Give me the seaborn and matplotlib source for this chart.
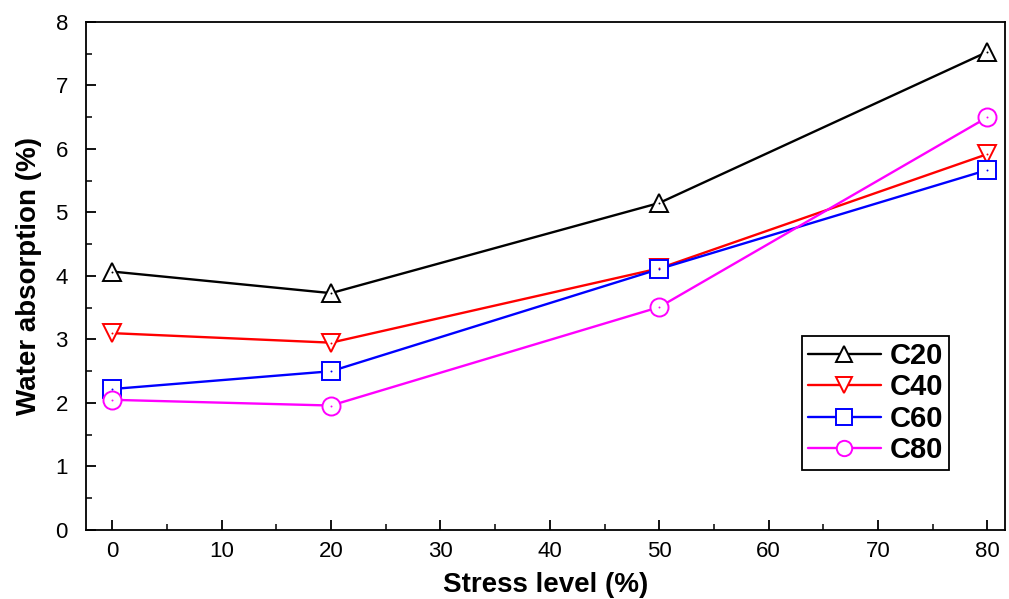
import numpy as np
import pandas as pd
import matplotlib
matplotlib.use("Agg")
import matplotlib.pyplot as plt
from matplotlib.ticker import MultipleLocator
import seaborn as sns

stress = [0, 20, 50, 80]
c20 = [4.07, 3.73, 5.15, 7.53]
c40 = [3.10, 2.95, 4.12, 5.92]
c60 = [2.22, 2.50, 4.11, 5.67]
c80 = [2.05, 1.96, 3.51, 6.50]
series_names = ["C20", "C40", "C60", "C80"]

sns.set_theme(style="ticks")
plt.rcParams['font.family'] = ['Liberation Sans', 'DejaVu Sans']
plt.rcParams['text.color'] = 'black'
plt.rcParams['axes.labelcolor'] = 'black'

colors = {"C20": "black", "C40": "#ff0000", "C60": "#0000ff", "C80": "#ff00ff"}
markers = {"C20": "^", "C40": "v", "C60": "s", "C80": "o"}
values = {"C20": c20, "C40": c40, "C60": c60, "C80": c80}

fig = plt.figure(figsize=(10.09, 5.99), dpi=100)
ax = fig.add_axes([0.0852, 0.1152, 0.9108, 0.8481])

for name in series_names:
    df = pd.DataFrame({"x": stress, "y": values[name]})
    sns.lineplot(data=df, x="x", y="y", ax=ax, color=colors[name], marker=markers[name],
                 markersize=13, mfc="white", mec=colors[name], mew=1.4, lw=1.7, label=name)
    sns.scatterplot(data=df, x="x", y="y", ax=ax, color=colors[name], s=2, linewidth=0,
                    legend=False, zorder=5)

ax.set_xlim(-2.4, 81.6)
ax.set_ylim(0, 8)
ax.xaxis.set_major_locator(MultipleLocator(10))
ax.xaxis.set_minor_locator(MultipleLocator(5))
ax.yaxis.set_major_locator(MultipleLocator(1))
ax.yaxis.set_minor_locator(MultipleLocator(0.5))
ax.tick_params(which="major", direction="in", length=7, width=1.3, labelsize=16,
               colors="black", labelcolor="black", pad=8)
ax.tick_params(axis="y", which="major", pad=13)
ax.tick_params(which="minor", direction="in", length=4, width=1.1, colors="black")
for s in ax.spines.values():
    s.set_linewidth(1.3)
    s.set_color("black")

ax.set_xlabel("Stress level (%)", fontsize=20, fontweight="bold", labelpad=7, color="black")
ax.set_ylabel("Water absorption (%)", fontsize=20, fontweight="bold", labelpad=10, color="black")

leg = ax.legend(loc="upper left", bbox_to_anchor=(0.779, 0.382), borderaxespad=0,
                frameon=True, fancybox=False, edgecolor="black", framealpha=1, fontsize=21,
                handlelength=2.5, borderpad=0.2, labelspacing=0.12, handletextpad=0.3,
                markerscale=0.85)
leg.get_frame().set_linewidth(1.3)
for t in leg.get_texts():
    t.set_fontweight("bold")
    t.set_color("black")

fig.savefig("out.png", dpi=100)
